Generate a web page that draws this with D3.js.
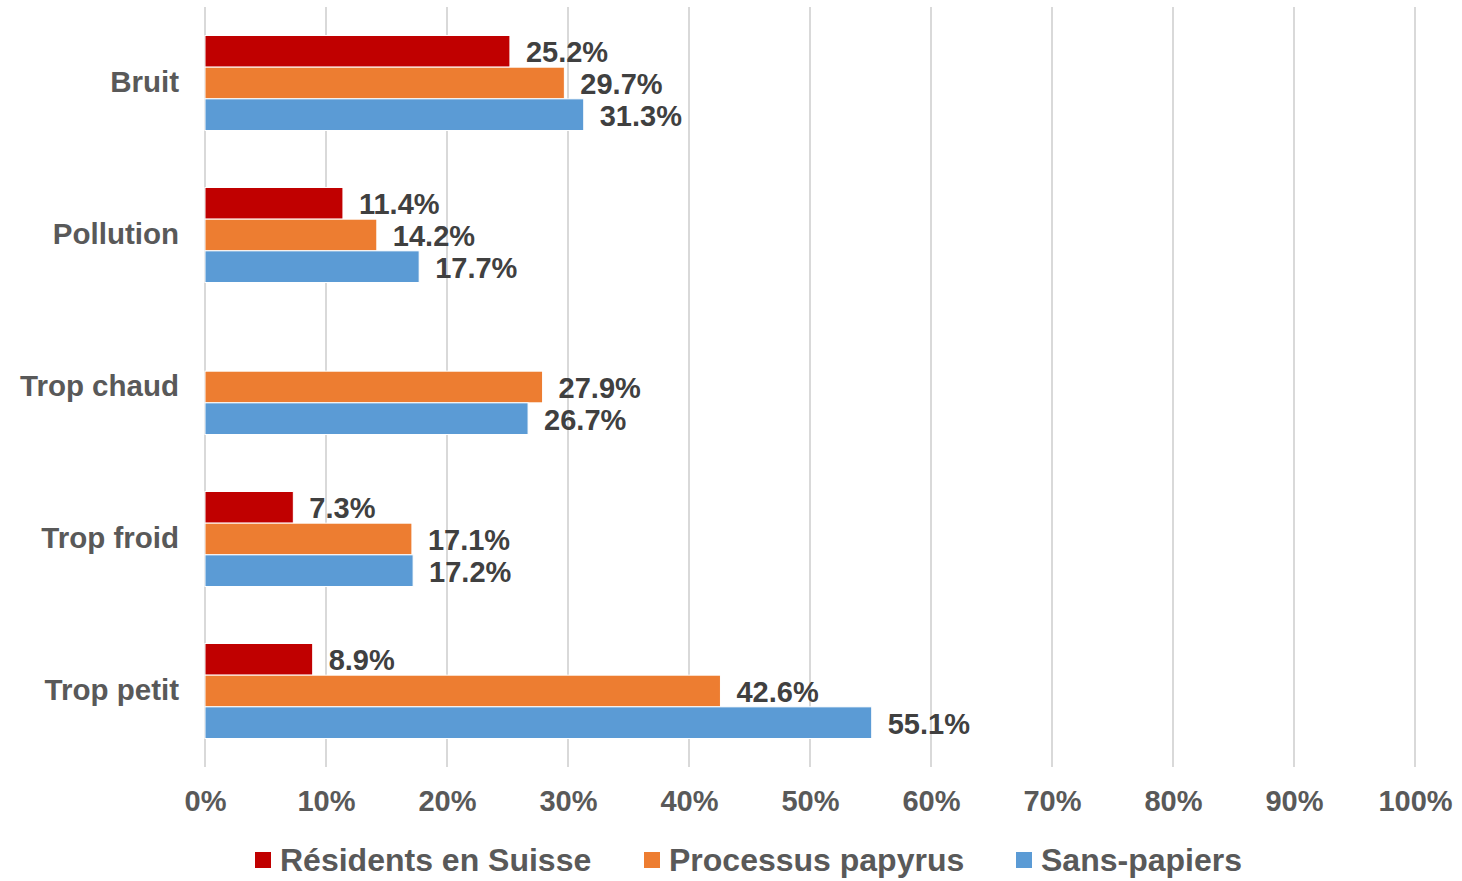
<!DOCTYPE html>
<html>
<head>
<meta charset="utf-8">
<script src="https://cdn.jsdelivr.net/npm/d3@7"></script>
<style>
  body { margin: 0; background: #fff; }
  svg { display: block; font-family: "Liberation Sans", Arial, sans-serif; font-weight: bold; }
</style>
</head>
<body>
<svg id="chart"></svg>
<script>
const categories = ["Bruit", "Pollution", "Trop chaud", "Trop froid", "Trop petit"]
const seriesNames = ["Résidents en Suisse", "Processus papyrus", "Sans-papiers"]
const residents = [25.2, 11.4, null, 7.3, 8.9]
const papyrus = [29.7, 14.2, 27.9, 17.1, 42.6]
const sansPapiers = [31.3, 17.7, 26.7, 17.2, 55.1]
const ticks = [0, 10, 20, 30, 40, 50, 60, 70, 80, 90, 100]
const colors = ["#C00000", "#ED7D31", "#5B9BD5"]

const width = 1462
const height = 881
const margin = {top: 7, right: 47, bottom: 114, left: 205}

const seriesValues = [residents, papyrus, sansPapiers]

const svg = d3.select("#chart").attr("width", width).attr("height", height)

const x = d3.scaleLinear()
    .domain([0, 100])
    .range([margin.left, width - margin.right])

const y = d3.scaleBand()
    .domain(categories)
    .range([margin.top, height - margin.bottom])
    .paddingInner(0.375)
    .paddingOuter(0.1875)

const ySub = d3.scaleBand()
    .domain(seriesNames)
    .range([0, y.bandwidth()])

// gridlines
svg.append("g")
  .selectAll("line")
  .data(ticks)
  .join("line")
    .attr("x1", d => x(d)).attr("x2", d => x(d))
    .attr("y1", margin.top).attr("y2", height - margin.bottom)
    .attr("stroke", "#d9d9d9")
    .attr("stroke-width", 2)

// x axis labels
const xAxis = svg.append("g")
    .attr("transform", `translate(0,${height - margin.bottom})`)
    .call(d3.axisBottom(x).tickValues(ticks).tickFormat(d => d + "%").tickSize(0).tickPadding(23))
xAxis.select(".domain").remove()
xAxis.selectAll("text")
    .attr("fill", "#595959")
    .style("font-size", "29px")
    .style("font-family", "'Liberation Sans', Arial, sans-serif")
    .style("font-weight", "bold")

// category labels
const yAxis = svg.append("g")
    .attr("transform", `translate(${margin.left},0)`)
    .call(d3.axisLeft(y).tickSize(0).tickPadding(26))
yAxis.select(".domain").remove()
yAxis.selectAll("text")
    .attr("fill", "#595959")
    .style("font-size", "29.5px")
    .style("font-family", "'Liberation Sans', Arial, sans-serif")
    .style("font-weight", "bold")

// bars
const rows = []
seriesNames.forEach((s, si) => {
  categories.forEach((c, ci) => {
    const v = seriesValues[si][ci]
    if (v != null) rows.push({series: s, cat: c, value: v, color: colors[si]})
  })
})

svg.append("g")
  .selectAll("rect")
  .data(rows)
  .join("rect")
    .attr("x", x(0))
    .attr("y", d => y(d.cat) + ySub(d.series))
    .attr("width", d => x(d.value) - x(0))
    .attr("height", ySub.bandwidth())
    .attr("fill", d => d.color)
    .attr("stroke", "#fff")
    .attr("stroke-width", 1)

svg.append("g")
  .selectAll("text")
  .data(rows)
  .join("text")
    .attr("x", d => x(d.value) + 16)
    .attr("y", d => y(d.cat) + ySub(d.series) + ySub.bandwidth() / 2 + 1)
    .attr("dy", "0.35em")
    .attr("fill", "#404040")
    .style("font-size", "29px")
    .text(d => d.value.toFixed(1) + "%")

// legend
const legendX = [255, 644, 1016]
const legend = svg.append("g")
  .selectAll("g")
  .data(seriesNames)
  .join("g")
    .attr("transform", (d, i) => `translate(${legendX[i]},852)`)
legend.append("rect")
    .attr("width", 16).attr("height", 16)
    .attr("fill", (d, i) => colors[i])
legend.append("text")
    .attr("x", 25).attr("y", 8)
    .attr("dy", "0.35em")
    .attr("fill", "#595959")
    .style("font-size", "32px")
    .text(d => d)
</script>
</body>
</html>
